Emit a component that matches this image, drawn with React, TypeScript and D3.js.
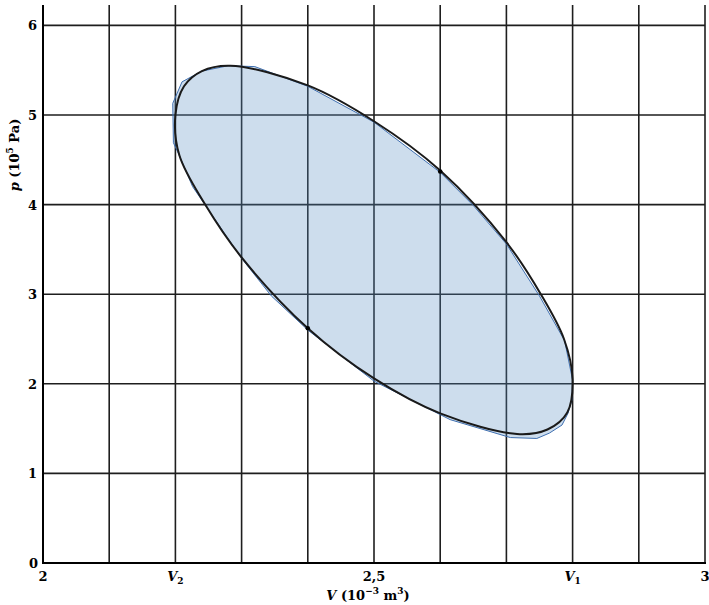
import React from 'react';
import * as d3 from 'd3';

// x grid every 0.1 (10^-3 m^3), y grid every 1 (10^5 Pa)
const xGrid = [2.1, 2.2, 2.3, 2.4, 2.5, 2.6, 2.7, 2.8, 2.9, 3];
const yGrid = [1, 2, 3, 4, 5, 6];
const xTickVals = [2, 2.2, 2.5, 2.8, 3];
const xTickLabels = ['2', 'V2', '2,5', 'V1', '3'];
const yTickVals = [0, 1, 2, 3, 4, 5, 6];

// smooth cycle (black curve): [V, p]
const cycleV = [2.2, 2.213, 2.24, 2.283, 2.4, 2.5, 2.6, 2.7, 2.752, 2.787, 2.8, 2.792, 2.762, 2.716, 2.6, 2.5, 2.4, 2.3, 2.245, 2.206];
const cycleP = [5.0, 5.32, 5.49, 5.55, 5.33, 4.93, 4.38, 3.58, 3.0, 2.5, 2.05, 1.68, 1.49, 1.44, 1.67, 2.06, 2.62, 3.41, 4.0, 4.55];

// rough filled area outline (blue polygon)
const areaV = [2.196, 2.21, 2.24, 2.28, 2.32, 2.4, 2.5, 2.6, 2.65, 2.7, 2.75, 2.788, 2.8, 2.799, 2.793, 2.784, 2.765, 2.746, 2.706, 2.615, 2.5, 2.4, 2.345, 2.3, 2.226, 2.207, 2.197];
const areaP = [5.13, 5.37, 5.49, 5.55, 5.54, 5.32, 4.92, 4.36, 3.99, 3.56, 2.98, 2.48, 2.04, 1.82, 1.67, 1.54, 1.45, 1.39, 1.4, 1.6, 2.03, 2.6, 2.98, 3.4, 4.2, 4.53, 4.69];

// marked states on the curve
const markV = [2.6, 2.4];
const markP = [4.37, 2.62];

const W = 709;
const H = 605;
const left = 43, right = 705, bottom = 563, top = 5;
const font = '"DejaVu Serif", "Liberation Serif", serif';

export default function App() {
  const x = d3.scaleLinear().domain([2, 3]).range([left, right]);
  const y = d3.scaleLinear().domain([0, 6]).range([bottom, bottom - 6 * 89.6]);

  const cycle = cycleV.map((v, i) => [v, cycleP[i]] as [number, number]);
  const area = areaV.map((v, i) => [v, areaP[i]] as [number, number]);

  const smooth = d3.line<[number, number]>()
    .x(d => x(d[0])).y(d => y(d[1]))
    .curve(d3.curveCatmullRomClosed.alpha(0.5));
  const poly = d3.line<[number, number]>()
    .x(d => x(d[0])).y(d => y(d[1]))
    .curve(d3.curveLinearClosed);

  return (
    <div style={{ position: 'absolute', left: 0, top: 0 }}>
      <svg width={W} height={H} style={{ display: 'block', background: '#fff' }}>
        {/* grid */}
        {xGrid.map(v => (
          <line key={'gx' + v} x1={x(v)} x2={x(v)} y1={bottom} y2={top}
            stroke="#1e1e1e" strokeWidth={1.6} />
        ))}
        {yGrid.map(v => (
          <line key={'gy' + v} x1={left} x2={right} y1={y(v)} y2={y(v)}
            stroke="#1e1e1e" strokeWidth={1.6} />
        ))}

        {/* filled cycle area, translucent so grid shows through */}
        <path d={poly(area) || ''} fill="#5a8dc5" fillOpacity={0.3} stroke="#3f6fb0" strokeWidth={1} />

        {/* axes */}
        <line x1={left} x2={left} y1={bottom + 1} y2={top} stroke="#000" strokeWidth={2} />
        <line x1={left - 1} x2={right + 1} y1={bottom} y2={bottom} stroke="#000" strokeWidth={2} />

        {/* cycle curve */}
        <path d={smooth(cycle) || ''} fill="none" stroke="#1a1a1a" strokeWidth={2} />
        {markV.map((v, i) => (
          <circle key={'m' + i} cx={x(v)} cy={y(markP[i])} r={2.3} fill="#000" />
        ))}

        {/* y ticks */}
        {yTickVals.map(v => (
          <text key={'ty' + v} x={v === 0 ? 38 : 37} y={y(v) + 5} textAnchor="end"
            fontFamily={font} fontWeight="bold" fontSize={13} fill="#000">{v}</text>
        ))}

        {/* x ticks */}
        {xTickVals.map((v, i) => {
          const lab = xTickLabels[i];
          const isV = lab.startsWith('V');
          return (
            <text key={'tx' + v} x={x(v)} y={581} textAnchor="middle"
              fontFamily={font} fontWeight="bold" fontSize={13} fill="#000">
              {isV ? (
                <>
                  <tspan fontStyle="italic">V</tspan>
                  <tspan fontSize={9} dy={3}>{lab.slice(1)}</tspan>
                </>
              ) : lab}
            </text>
          );
        })}

        {/* axis titles */}
        <text x={368} y={600} textAnchor="middle" fontFamily={font} fontWeight="bold" fontSize={13} fill="#000">
          <tspan fontStyle="italic">V</tspan>
          <tspan> (10</tspan>
          <tspan fontSize={9} dy={-6}>−3</tspan>
          <tspan dy={6}> m</tspan>
          <tspan fontSize={9} dy={-6}>3</tspan>
          <tspan dy={6}>)</tspan>
        </text>
        <text transform="translate(19,155) rotate(-90)" textAnchor="middle" fontFamily={font}
          fontWeight="bold" fontSize={13} fill="#000">
          <tspan fontStyle="italic">p</tspan>
          <tspan> (10</tspan>
          <tspan fontSize={9} dy={-6}>5</tspan>
          <tspan dy={6}> Pa)</tspan>
        </text>
      </svg>
    </div>
  );
}
